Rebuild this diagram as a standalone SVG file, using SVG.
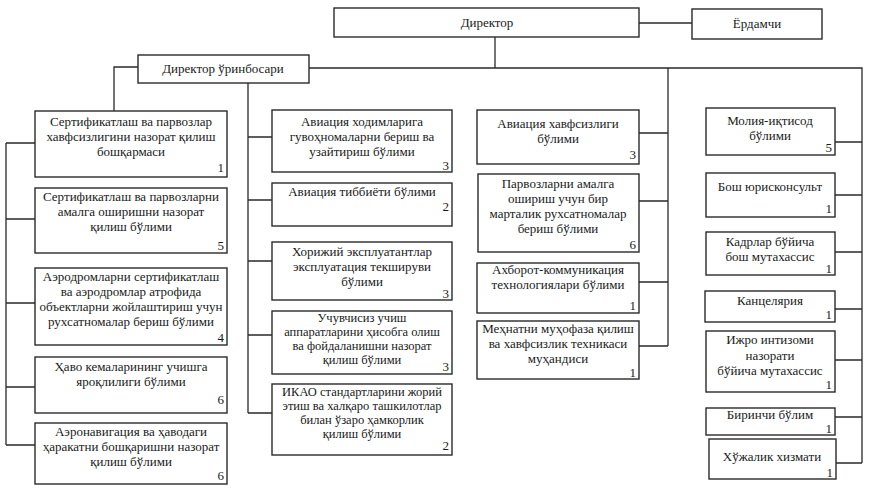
<svg xmlns="http://www.w3.org/2000/svg" width="875" height="493" viewBox="0 0 875 493">
<style>
.b{fill:#fff;stroke:#2a2a2a;stroke-width:1.4}
.c{fill:none;stroke:#2a2a2a;stroke-width:1.3}
text{font-family:"Liberation Serif","DejaVu Serif","Times New Roman",serif;font-size:13px;fill:#1a1a1a}
.m{text-anchor:middle}
.n{text-anchor:end}
.s{font-size:12.5px}
</style>
<rect width="875" height="493" fill="#fff"/>
<g id="connectors">
<path class="c" d="M639,23H692"/>
<path class="c" d="M495,37V68"/>
<path class="c" d="M309,68H862V463"/>
<path class="c" d="M835,142H862M835,195H862M835,252H862M835,309H862M835,360H862M835,417H862M836,463H862"/>
<path class="c" d="M668,68V346M639,133H668M639,201H668M639,282H668M639,346H668"/>
<path class="c" d="M138,67H114V111"/>
<path class="c" d="M248,83V413M248,137H272M248,200H272M248,261H272M248,335H272M248,413H272"/>
<path class="c" d="M6,143V445M6,143H35M6,219H35M6,303H35M6,387H35M6,445H35"/>
</g>
<g id="director"><rect class="b" x="334" y="8" width="305" height="29"/><text class="m" x="487" y="27">Директор</text></g>
<g id="yordamchi"><rect class="b" x="692" y="9" width="130" height="30"/><text class="m" x="757" y="28">Ёрдамчи</text></g>
<g id="deputy"><rect class="b" x="138" y="55" width="171" height="28"/><text class="m" x="223" y="73">Директор ўринбосари</text></g>

<g id="L1"><rect class="b" x="35" y="111" width="192" height="66"/><text class="m"><tspan x="131" y="126">Сертификатлаш ва парвозлар</tspan><tspan x="131" y="141">хавфсизлигини назорат қилиш</tspan><tspan x="131" y="156">бошқармаси</tspan></text><text class="n" x="224" y="172">1</text></g>
<g id="L2"><rect class="b" x="35" y="188" width="192" height="65"/><text class="m"><tspan x="131" y="201">Сертификатлаш ва парвозларни</tspan><tspan x="131" y="216">амалга оширишни назорат</tspan><tspan x="131" y="231">қилиш бўлими</tspan></text><text class="n" x="224" y="250">5</text></g>
<g id="L3"><rect class="b" x="35" y="268" width="192" height="77"/><text class="m"><tspan x="131" y="281">Аэродромларни сертификатлаш</tspan><tspan x="131" y="296">ва аэродромлар атрофида</tspan><tspan x="131" y="311">объектларни жойлаштириш учун</tspan><tspan x="131" y="326">рухсатномалар бериш бўлими</tspan></text><text class="n" x="224" y="342">4</text></g>
<g id="L4"><rect class="b" x="35" y="357" width="192" height="56"/><text class="m"><tspan x="131" y="371">Ҳаво кемаларининг учишга</tspan><tspan x="131" y="386">яроқлилиги бўлими</tspan></text><text class="n" x="224" y="404">6</text></g>
<g id="L5"><rect class="b" x="35" y="423" width="192" height="61"/><text class="m"><tspan x="131" y="436">Аэронавигация ва ҳаводаги</tspan><tspan x="131" y="451">ҳаракатни бошқаришни назорат</tspan><tspan x="131" y="466">қилиш бўлими</tspan></text><text class="n" x="224" y="480">6</text></g>

<g id="C1"><rect class="b" x="272" y="110" width="180" height="62"/><text class="m"><tspan x="362" y="126">Авиация ходимларига</tspan><tspan x="362" y="141">гувоҳномаларни бериш ва</tspan><tspan x="362" y="156">узайтириш бўлими</tspan></text><text class="n" x="449" y="170">3</text></g>
<g id="C2"><rect class="b" x="272" y="183" width="180" height="43"/><text class="m" x="362" y="196">Авиация тиббиёти бўлими</text><text class="n" x="449" y="211">2</text></g>
<g id="C3"><rect class="b" x="272" y="242" width="180" height="58"/><text class="m"><tspan x="362" y="256">Хорижий эксплуатантлар</tspan><tspan x="362" y="271">эксплуатация текшируви</tspan><tspan x="362" y="286">бўлими</tspan></text><text class="n" x="449" y="298">3</text></g>
<g id="C4"><rect class="b" x="272" y="311" width="180" height="63"/><text class="m s"><tspan x="362" y="322">Учувчисиз учиш</tspan><tspan x="362" y="336">аппаратларини ҳисобга олиш</tspan><tspan x="362" y="350">ва фойдаланишни назорат</tspan><tspan x="362" y="364">қилиш бўлими</tspan></text><text class="n" x="449" y="371">3</text></g>
<g id="C5"><rect class="b" x="272" y="384" width="180" height="71"/><text class="m s"><tspan x="362" y="396">ИКАО стандартларини жорий</tspan><tspan x="362" y="410">этиш ва халқаро ташкилотлар</tspan><tspan x="362" y="424">билан ўзаро ҳамкорлик</tspan><tspan x="362" y="438">қилиш бўлими</tspan></text><text class="n" x="449" y="450">2</text></g>

<g id="T1"><rect class="b" x="477" y="110" width="162" height="54"/><text class="m"><tspan x="558" y="128">Авиация хавфсизлиги</tspan><tspan x="558" y="143">бўлими</tspan></text><text class="n" x="636" y="159">3</text></g>
<g id="T2"><rect class="b" x="478" y="174" width="161" height="78"/><text class="m"><tspan x="558" y="188">Парвозларни амалга</tspan><tspan x="558" y="203">ошириш учун бир</tspan><tspan x="558" y="218">марталик рухсатномалар</tspan><tspan x="558" y="233">бериш бўлими</tspan></text><text class="n" x="636" y="249">6</text></g>
<g id="T3"><rect class="b" x="477" y="263" width="162" height="50"/><text class="m"><tspan x="558" y="274">Ахборот-коммуникация</tspan><tspan x="558" y="289">технологиялари бўлими</tspan></text><text class="n" x="636" y="310">1</text></g>
<g id="T4"><rect class="b" x="477" y="321" width="162" height="58"/><text class="m"><tspan x="558" y="333">Меҳнатни муҳофаза қилиш</tspan><tspan x="558" y="348">ва хавфсизлик техникаси</tspan><tspan x="558" y="363">муҳандиси</tspan></text><text class="n" x="636" y="377">1</text></g>

<g id="R1"><rect class="b" x="706" y="108" width="129" height="47"/><text class="m"><tspan x="770" y="125">Молия-иқтисод</tspan><tspan x="770" y="140">бўлими</tspan></text><text class="n" x="832" y="152">5</text></g>
<g id="R2"><rect class="b" x="706" y="173" width="129" height="44"/><text class="m" x="770" y="191">Бош юрисконсульт</text><text class="n" x="832" y="213">1</text></g>
<g id="R3"><rect class="b" x="706" y="232" width="129" height="43"/><text class="m"><tspan x="770" y="246">Кадрлар бўйича</tspan><tspan x="770" y="261">бош мутахассис</tspan></text><text class="n" x="832" y="273">1</text></g>
<g id="R4"><rect class="b" x="705" y="291" width="130" height="31"/><text class="m" x="770" y="305">Канцелярия</text><text class="n" x="832" y="319">1</text></g>
<g id="R5"><rect class="b" x="706" y="331" width="129" height="61"/><text class="m"><tspan x="770" y="344">Ижро интизоми</tspan><tspan x="770" y="360">назорати</tspan><tspan x="770" y="375">бўйича мутахассис</tspan></text><text class="n" x="832" y="389">1</text></g>
<g id="R6"><rect class="b" x="706" y="408" width="129" height="27"/><text class="m" x="770" y="419">Биринчи бўлим</text><text class="n" x="832" y="433">1</text></g>
<g id="R7"><rect class="b" x="709" y="439" width="127" height="40"/><text class="m" x="772" y="461">Хўжалик хизмати</text><text class="n" x="833" y="477">1</text></g>
</svg>
